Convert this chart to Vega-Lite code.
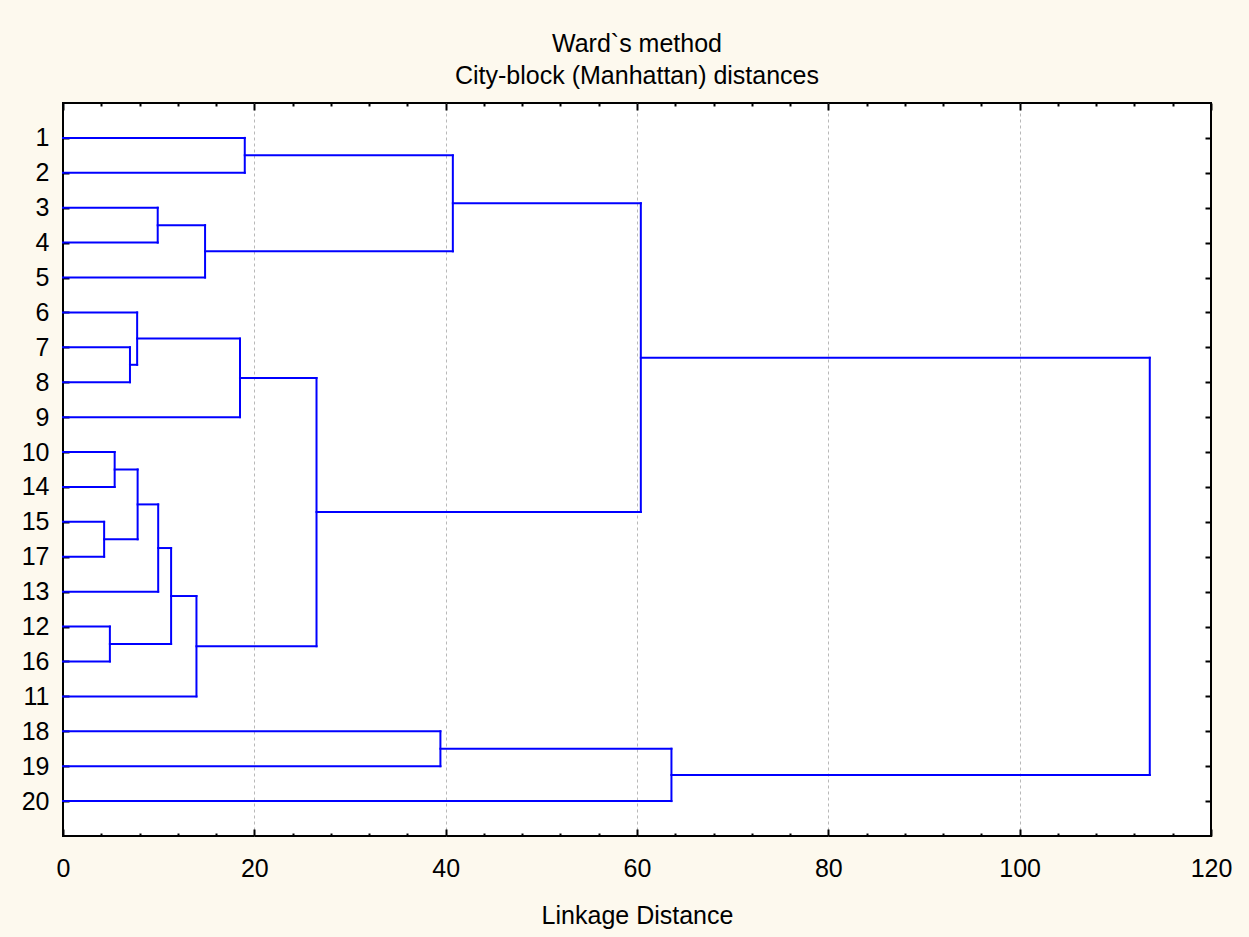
{
  "$schema": "https://vega.github.io/schema/vega-lite/v6.json",
  "width": 1148,
  "height": 733,
  "autosize": {"type": "none"},
  "padding": {"left": 63, "top": 103, "right": 38, "bottom": 101},
  "background": "#fdf9ee",
  "title": {
    "text": ["Ward`s method", "City-block (Manhattan) distances"],
    "font": "Liberation Sans",
    "fontSize": 25,
    "fontWeight": "normal",
    "color": "#000000",
    "anchor": "middle",
    "frame": "group",
    "lineHeight": 32,
    "offset": 13
  },
  "config": {
    "font": "Liberation Sans",
    "view": {"fill": "#ffffff", "stroke": "#000000", "strokeWidth": 2}
  },
  "data": {
    "values": [
      {"node": "a", "x": 0, "x2": 19.0, "y": 1, "y2": 1},
      {"node": "a", "x": 0, "x2": 19.0, "y": 2, "y2": 2},
      {"node": "a", "x": 19.0, "x2": 19.0, "y": 1, "y2": 2},
      {"node": "b", "x": 0, "x2": 9.9, "y": 3, "y2": 3},
      {"node": "b", "x": 0, "x2": 9.9, "y": 4, "y2": 4},
      {"node": "b", "x": 9.9, "x2": 9.9, "y": 3, "y2": 4},
      {"node": "c", "x": 9.9, "x2": 14.85, "y": 3.5, "y2": 3.5},
      {"node": "c", "x": 0, "x2": 14.85, "y": 5, "y2": 5},
      {"node": "c", "x": 14.85, "x2": 14.85, "y": 3.5, "y2": 5},
      {"node": "d", "x": 19.0, "x2": 40.75, "y": 1.5, "y2": 1.5},
      {"node": "d", "x": 14.85, "x2": 40.75, "y": 4.25, "y2": 4.25},
      {"node": "d", "x": 40.75, "x2": 40.75, "y": 1.5, "y2": 4.25},
      {"node": "e", "x": 0, "x2": 7.0, "y": 7, "y2": 7},
      {"node": "e", "x": 0, "x2": 7.0, "y": 8, "y2": 8},
      {"node": "e", "x": 7.0, "x2": 7.0, "y": 7, "y2": 8},
      {"node": "f", "x": 0, "x2": 7.75, "y": 6, "y2": 6},
      {"node": "f", "x": 7.0, "x2": 7.75, "y": 7.5, "y2": 7.5},
      {"node": "f", "x": 7.75, "x2": 7.75, "y": 6, "y2": 7.5},
      {"node": "g", "x": 7.75, "x2": 18.5, "y": 6.75, "y2": 6.75},
      {"node": "g", "x": 0, "x2": 18.5, "y": 9, "y2": 9},
      {"node": "g", "x": 18.5, "x2": 18.5, "y": 6.75, "y2": 9},
      {"node": "h", "x": 0, "x2": 5.4, "y": 10, "y2": 10},
      {"node": "h", "x": 0, "x2": 5.4, "y": 11, "y2": 11},
      {"node": "h", "x": 5.4, "x2": 5.4, "y": 10, "y2": 11},
      {"node": "i", "x": 0, "x2": 4.3, "y": 12, "y2": 12},
      {"node": "i", "x": 0, "x2": 4.3, "y": 13, "y2": 13},
      {"node": "i", "x": 4.3, "x2": 4.3, "y": 12, "y2": 13},
      {"node": "j", "x": 5.4, "x2": 7.8, "y": 10.5, "y2": 10.5},
      {"node": "j", "x": 4.3, "x2": 7.8, "y": 12.5, "y2": 12.5},
      {"node": "j", "x": 7.8, "x2": 7.8, "y": 10.5, "y2": 12.5},
      {"node": "k", "x": 7.8, "x2": 9.95, "y": 11.5, "y2": 11.5},
      {"node": "k", "x": 0, "x2": 9.95, "y": 14, "y2": 14},
      {"node": "k", "x": 9.95, "x2": 9.95, "y": 11.5, "y2": 14},
      {"node": "l", "x": 0, "x2": 4.9, "y": 15, "y2": 15},
      {"node": "l", "x": 0, "x2": 4.9, "y": 16, "y2": 16},
      {"node": "l", "x": 4.9, "x2": 4.9, "y": 15, "y2": 16},
      {"node": "m", "x": 9.95, "x2": 11.3, "y": 12.75, "y2": 12.75},
      {"node": "m", "x": 4.9, "x2": 11.3, "y": 15.5, "y2": 15.5},
      {"node": "m", "x": 11.3, "x2": 11.3, "y": 12.75, "y2": 15.5},
      {"node": "n", "x": 11.3, "x2": 13.95, "y": 14.125, "y2": 14.125},
      {"node": "n", "x": 0, "x2": 13.95, "y": 17, "y2": 17},
      {"node": "n", "x": 13.95, "x2": 13.95, "y": 14.125, "y2": 17},
      {"node": "o", "x": 18.5, "x2": 26.5, "y": 7.875, "y2": 7.875},
      {"node": "o", "x": 13.95, "x2": 26.5, "y": 15.5625, "y2": 15.5625},
      {"node": "o", "x": 26.5, "x2": 26.5, "y": 7.875, "y2": 15.5625},
      {"node": "p", "x": 40.75, "x2": 60.4, "y": 2.875, "y2": 2.875},
      {"node": "p", "x": 26.5, "x2": 60.4, "y": 11.71875, "y2": 11.71875},
      {"node": "p", "x": 60.4, "x2": 60.4, "y": 2.875, "y2": 11.71875},
      {"node": "q", "x": 0, "x2": 39.45, "y": 18, "y2": 18},
      {"node": "q", "x": 0, "x2": 39.45, "y": 19, "y2": 19},
      {"node": "q", "x": 39.45, "x2": 39.45, "y": 18, "y2": 19},
      {"node": "r", "x": 39.45, "x2": 63.6, "y": 18.5, "y2": 18.5},
      {"node": "r", "x": 0, "x2": 63.6, "y": 20, "y2": 20},
      {"node": "r", "x": 63.6, "x2": 63.6, "y": 18.5, "y2": 20},
      {"node": "s", "x": 60.4, "x2": 113.6, "y": 7.296875, "y2": 7.296875},
      {"node": "s", "x": 63.6, "x2": 113.6, "y": 19.25, "y2": 19.25},
      {"node": "s", "x": 113.6, "x2": 113.6, "y": 7.296875, "y2": 19.25}
    ]
  },
  "layer": [
    {
      "mark": {"type": "rule", "color": "#0000ff", "strokeWidth": 2, "strokeCap": "square"},
      "encoding": {
        "x": {
          "field": "x",
          "type": "quantitative",
          "scale": {"domain": [0, 120], "nice": false, "zero": false},
          "axis": {
            "orient": "bottom",
            "values": [0, 4, 8, 12, 16, 20, 24, 28, 32, 36, 40, 44, 48, 52, 56, 60, 64, 68, 72, 76, 80, 84, 88, 92, 96, 100, 104, 108, 112, 116, 120],
            "domain": false,
            "ticks": true,
            "tickSize": {"condition": {"test": "datum.value % 20 === 0", "value": -7}, "value": -3},
            "tickColor": "#000000",
            "tickWidth": 2,
            "labelExpr": "datum.value % 20 === 0 ? datum.label : ''",
            "labelFontSize": 25,
            "labelColor": "#000000",
            "labelPadding": 27,
            "labelFlush": false,
            "labelOverlap": false,
            "grid": true,
            "gridColor": "#b8b8b8",
            "gridDash": [3, 3],
            "gridWidth": 1,
            "gridOpacity": {"condition": {"test": "datum.value % 20 === 0 && datum.value > 0 && datum.value < 120", "value": 1}, "value": 0},
            "title": "Linkage Distance",
            "titleFontSize": 25,
            "titleFontWeight": "normal",
            "titleColor": "#000000",
            "titlePadding": 18
          }
        },
        "x2": {"field": "x2"},
        "y": {
          "field": "y",
          "type": "quantitative",
          "scale": {"domain": [0, 21], "reverse": true, "nice": false, "zero": false},
          "axis": {
            "orient": "left",
            "values": [1, 2, 3, 4, 5, 6, 7, 8, 9, 10, 11, 12, 13, 14, 15, 16, 17, 18, 19, 20],
            "domain": false,
            "grid": false,
            "tickSize": -6,
            "tickColor": "#000000",
            "tickWidth": 2,
            "labelExpr": "['', '1', '2', '3', '4', '5', '6', '7', '8', '9', '10', '14', '15', '17', '13', '12', '16', '11', '18', '19', '20'][datum.value]",
            "labelFontSize": 25,
            "labelColor": "#000000",
            "labelPadding": 20,
            "labelFlush": false,
            "labelOverlap": false,
            "title": null
          }
        },
        "y2": {"field": "y2"}
      }
    },
    {
      "mark": {"type": "rule", "opacity": 0},
      "encoding": {
        "x": {
          "field": "x",
          "type": "quantitative",
          "axis": {
            "orient": "top",
            "values": [0, 4, 8, 12, 16, 20, 24, 28, 32, 36, 40, 44, 48, 52, 56, 60, 64, 68, 72, 76, 80, 84, 88, 92, 96, 100, 104, 108, 112, 116, 120],
            "domain": false,
            "grid": false,
            "labels": false,
            "tickSize": {"condition": {"test": "datum.value % 20 === 0", "value": -7}, "value": -3},
            "tickColor": "#000000",
            "tickWidth": 2,
            "title": null
          }
        },
        "x2": {"field": "x2"},
        "y": {
          "field": "y",
          "type": "quantitative",
          "axis": {
            "orient": "right",
            "values": [1, 2, 3, 4, 5, 6, 7, 8, 9, 10, 11, 12, 13, 14, 15, 16, 17, 18, 19, 20],
            "domain": false,
            "grid": false,
            "labels": false,
            "tickSize": -6,
            "tickColor": "#000000",
            "tickWidth": 2,
            "title": null
          }
        },
        "y2": {"field": "y2"}
      }
    }
  ],
  "resolve": {"axis": {"x": "independent", "y": "independent"}}
}
